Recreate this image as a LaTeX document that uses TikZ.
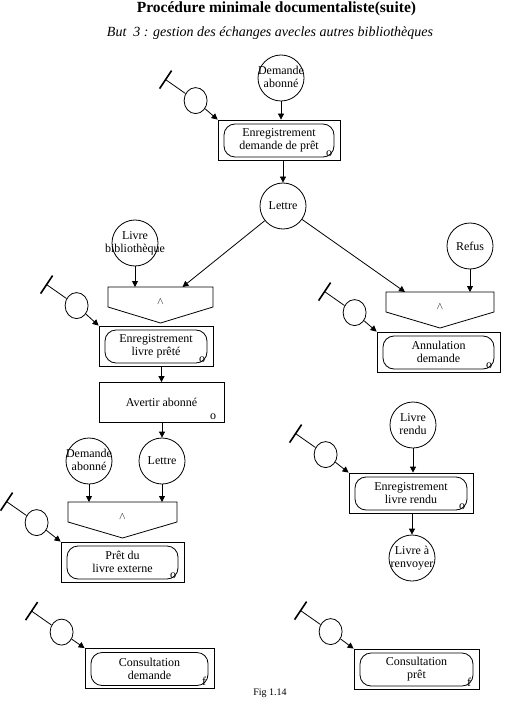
\documentclass[tikz,border=0pt]{standalone}
\usepackage{fontspec}
\setmainfont{Liberation Serif}
\usetikzlibrary{arrows.meta,shapes.geometric}

\newcommand\dans[1]{\makebox[0pt]{\begin{tabular}{@{}c@{}}#1\end{tabular}}}

\tikzset{
  fleche/.style={-{Triangle[length=6pt,width=6pt]}},
  rond/.style={draw,circle,minimum size=46pt,inner sep=0pt},
  petitrond/.style={draw,ellipse,minimum width=23pt,minimum height=26pt,inner sep=0pt},
  tache/.style={draw,minimum width=#1,minimum height=40pt,align=center,inner sep=0pt},
  operation/.style={tache=#1,
    path picture={\draw[rounded corners=11pt] ([shift={(6pt,-4pt)}]path picture bounding box.north west) rectangle ([shift={(-6pt,3pt)}]path picture bounding box.south east);}},
  marque/.style={label={[anchor=south east,inner sep=0pt,xshift=-8pt,yshift=3pt]south east:#1}},
  pics/fusion/.style={code={
    \draw (-#1,0) -- (#1,0) -- (#1,20) -- (0,36) -- (-#1,20) -- cycle;
    \node[font=\fontsize{10}{10}\selectfont] (-et) at (0,15) {$\wedge$};
    \coordinate (-top) at (0,0);
  }}
}

\begin{document}
\begin{tikzpicture}[x=1pt,y=-1pt,line width=0.8pt,font=\fontsize{12}{13}\selectfont]
\useasboundingbox (0,0) rectangle (505,703);

% titre
\node[anchor=base,font=\bfseries\fontsize{15.5}{17}\selectfont] (titre) at (276.5,13) {Procédure minimale documentaliste(suite)};
\node[anchor=base,font=\itshape\fontsize{14}{15}\selectfont] (soustitre) at (270,37) {But\ \ 3 : gestion des échanges avecles autres bibliothèques};

% demande de pret
\node[rond] (dem1) at (281,78) {\dans{Demande\\abonné}};
\node[operation=122pt,marque=o] (enrdem) at (279,140) {Enregistrement\\demande de prêt};
\draw[fleche] (dem1) -- (dem1 |- enrdem.north);
\node[rond] (lettre) at (283,206) {Lettre};
\draw[fleche] (lettre |- enrdem.south) -- (lettre);

% branche gauche
\node[rond] (livbib) at (135,243) {\dans{Livre\\bibliothèque}};
\pic (et1) at (160.5,287) {fusion=52.5};
\draw[fleche] (livbib) -- (livbib |- et1-top);
\draw[fleche] (lettre) -- ([xshift=22pt]et1-top);
\node[operation=114pt,marque=o] (enrliv) at (156,346) {Enregistrement\\livre prêté};
\node[tache=125pt,marque=o] (avertir) at (161.5,402.5) {Avertir abonné};
\draw[fleche] (avertir.north |- enrliv.south) -- (avertir.north);
\node[rond] (dem2) at (89,461) {\dans{Demande\\abonné}};
\node[rond] (lettre2) at (162,461) {Lettre};
\draw[fleche] (lettre2 |- avertir.south) -- (lettre2);
\pic (et2) at (122.5,502) {fusion=54.5};
\draw[fleche] (dem2) -- (dem2 |- et2-top);
\draw[fleche] (lettre2) -- (lettre2 |- et2-top);
\node[operation=123pt,marque=o] (pret) at (122.5,562) {Prêt du\\livre externe};

% branche droite
\node[rond] (refus) at (470,246) {Refus};
\pic (et3) at (440,292) {fusion=54};
\draw[fleche] (lettre) -- ([xshift=-35pt]et3-top);
\draw[fleche] (refus) -- (refus |- et3-top);
\node[operation=123pt,marque=o] (annul) at (438.5,352) {Annulation\\demande};

\node[rond] (livrendu) at (413,425) {\dans{Livre\\rendu}};
\node[operation=124pt,marque=o] (enrrendu) at (411,493) {Enregistrement\\livre rendu};
\draw[fleche] (livrendu) -- (livrendu |- enrrendu.north);
\node[rond] (renvoyer) at (412,558) {\dans{Livre à\\renvoyer}};
\draw[fleche] (renvoyer |- enrrendu.south) -- (renvoyer);

% consultations
\node[operation=129pt,marque=f] (consdem) at (149.5,668.5) {Consultation\\demande};
\node[operation=125pt,marque=f] (conspret) at (416.5,669) {Consultation\\prêt};

% ressources
\foreach \op/\dx/\dy in {enrdem/-22/-19, enrliv/-22/-20, annul/-22/-19, pret/-24/-19, enrrendu/-23/-18, consdem/-23/-16, conspret/-23/-17}{
  \node[petitrond] (\op-r) at ([shift={(\dx,\dy)}]\op.north west) {};
  \coordinate (\op-b) at ([shift={(-30,-21)}]\op-r);
  \draw (\op-r) -- (\op-b);
  \draw[line width=1.6pt] ([shift={(-6,9)}]\op-b) -- ([shift={(6,-9)}]\op-b);
  \draw[fleche] (\op-r) -- (\op.north west);
}

\node[anchor=base,font=\fontsize{10}{10}\selectfont] (fig) at (270,695) {Fig 1.14};

\end{tikzpicture}
\end{document}
